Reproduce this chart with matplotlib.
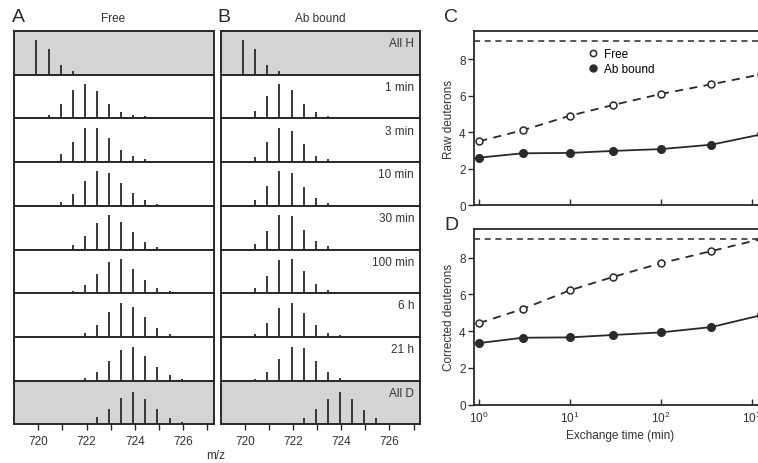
import matplotlib
matplotlib.use('Agg')
from matplotlib import pyplot as plt
from matplotlib.lines import Line2D
import numpy as np

plt.rcParams['font.family'] = ['Liberation Sans', 'DejaVu Sans']
plt.rcParams['mathtext.default'] = 'regular'

# --------------- Daten ---------------
# Isotopenpeaks (2+ Ion): erster Peak und Abstand in m/z
mz_first = 719.93
mz_step = 0.5
row_labels = ['All H', '1 min', '3 min', '10 min', '30 min', '100 min', '6 h', '21 h', 'All D']

# relative Peakhoehe (in % der Zeilenhoehe), Peak 0..12
free_peaks = [
    [79, 59, 22, 8, 2, 0, 0, 0, 0, 0, 0, 0, 0],
    [1, 8, 32, 64, 79, 62, 34, 15, 8, 5, 1, 0, 0],
    [0, 2, 18, 47, 79, 78, 55, 27, 14, 6, 2, 0, 0],
    [0, 0, 8, 26, 56, 79, 76, 53, 30, 14, 5, 0, 0],
    [0, 0, 1, 10, 32, 61, 78, 63, 40, 18, 6, 1, 0],
    [0, 0, 0, 5, 18, 44, 72, 78, 56, 31, 13, 5, 0],
    [0, 0, 0, 1, 9, 27, 56, 77, 69, 45, 21, 7, 1],
    [0, 0, 0, 0, 5, 19, 44, 69, 77, 57, 31, 13, 4],
    [0, 0, 0, 0, 3, 16, 36, 60, 75, 59, 34, 15, 5],
]
bound_peaks = [
    [79, 59, 22, 8, 2, 0, 0, 0, 0, 0, 0, 0, 0],
    [2, 16, 52, 79, 66, 34, 14, 5, 1, 0, 0, 0, 0],
    [1, 12, 45, 79, 71, 42, 15, 6, 1, 1, 0, 0, 0],
    [0, 13, 46, 79, 74, 43, 18, 6, 1, 0, 0, 0, 0],
    [1, 13, 43, 78, 77, 45, 20, 8, 2, 0, 0, 0, 0],
    [0, 11, 40, 76, 78, 50, 22, 8, 2, 1, 0, 0, 0],
    [0, 6, 31, 66, 77, 55, 27, 10, 4, 1, 0, 0, 0],
    [1, 3, 19, 50, 78, 75, 44, 20, 7, 2, 0, 0, 0],
    [0, 0, 0, 0, 3, 15, 35, 59, 75, 58, 33, 14, 4],
]

# Austauschkinetik
exch_time = [1, 3, 10, 30, 100, 360, 1260]
raw_free = [3.51, 4.11, 4.91, 5.50, 6.10, 6.63, 7.17]
raw_bound = [2.61, 2.85, 2.87, 2.98, 3.08, 3.32, 3.88]
corr_free = [4.44, 5.20, 6.22, 6.95, 7.69, 8.35, 9.0]
corr_bound = [3.35, 3.64, 3.66, 3.79, 3.93, 4.22, 4.86]
max_deut = 9

# --------------- Layout ---------------
W, H = 758, 464
fig = plt.figure(figsize=(W / 100, H / 100), dpi=100)
ink = '#2a2a2a'


def add_ax(l, t, r, b):
    return fig.add_axes([l / W, 1 - b / H, (r - l) / W, (b - t) / H])


row_top = 32
row_h = 43.7
gray_rows = [0, 8]


def spektren(x0, x1, peaks, show_labels):
    for i, inten in enumerate(peaks):
        ax = add_ax(x0, row_top + i * row_h, x1, row_top + (i + 1) * row_h)
        mz = mz_first + mz_step * np.arange(len(inten))
        h = np.array(inten, dtype=float)
        ok = h > 0
        ax.vlines(mz[ok], 0, h[ok], color=ink, lw=1.3, capstyle='butt')
        ax.set_xlim(719, 727.27)
        ax.set_ylim(0, 100)
        if i in gray_rows:
            ax.set_facecolor('#d4d4d6')
        for s in ax.spines.values():
            s.set_linewidth(1.4)
            s.set_color(ink)
        ax.set_yticks([])
        if i == len(peaks) - 1:
            ax.set_xticks([720, 722, 724, 726])
            ax.set_xticks([721, 723, 725, 727], minor=True)
            ax.tick_params(axis='x', which='both', direction='out', length=4,
                           width=1, color=ink, labelsize=8.5, labelcolor='#333333')
        else:
            ax.set_xticks([])
        if show_labels:
            ax.text(0.97, 0.72, row_labels[i], transform=ax.transAxes,
                    ha='right', va='center', fontsize=8.5, color='#333333')


spektren(14, 214, free_peaks, False)
spektren(221, 420, bound_peaks, True)

fig.text(18 / W, 1 - 18 / H, 'A', fontsize=14, ha='center', va='center', color=ink)
fig.text(113 / W, 1 - 19 / H, 'Free', fontsize=8.5, ha='center', va='center', color='#333333')
fig.text(224 / W, 1 - 18 / H, 'B', fontsize=14, ha='center', va='center', color=ink)
fig.text(320 / W, 1 - 19 / H, 'Ab bound', fontsize=8.5, ha='center', va='center', color='#333333')
fig.text(216 / W, 1 - 456 / H, 'm/z', fontsize=8.5, ha='center', va='center', color='#333333')


# --------------- Kinetik C / D ---------------
def kinetik(top, bottom, y_free, y_bound, ylabel, letter, letter_y, show_x):
    ax = add_ax(474, top, 779, bottom)
    ax.axhline(max_deut, ls=(0, (4, 3)), lw=1.1, color=ink)
    ax.plot(exch_time, y_free, ls=(0, (4.5, 3.5)), lw=1.3, color=ink,
            marker='o', ms=5, mfc='white', mec=ink, mew=1.1)
    ax.plot(exch_time, y_bound, ls='-', lw=1.3, color=ink,
            marker='o', ms=5.5, mfc=ink, mec=ink)
    ax.set_xscale('log')
    ax.set_xlim(0.875, 2000)
    ax.set_ylim(0, 9.55)
    ax.set_xticks([1, 10, 100, 1000])
    ax.minorticks_off()
    ax.set_yticks([0, 2, 4, 6, 8])
    ax.tick_params(axis='x', direction='in', length=4, width=1, color=ink,
                   labelsize=8.5, labelcolor='#333333', labelbottom=show_x)
    ax.tick_params(axis='y', direction='out', length=4, width=1, color=ink,
                   labelsize=8.5, labelcolor='#333333', pad=2)
    for s in ax.spines.values():
        s.set_linewidth(1.3)
        s.set_color(ink)
    ax.set_ylabel(ylabel, fontsize=8.5, color='#333333', labelpad=3)
    fig.text(451 / W, 1 - letter_y / H, letter, fontsize=14, ha='center', va='center', color=ink)
    return ax


axC = kinetik(32, 206.3, raw_free, raw_bound, 'Raw deuterons', 'C', 17.5, False)
axD = kinetik(230, 405.7, corr_free, corr_bound, 'Corrected deuterons', 'D', 226, True)
fig.text(620 / W, 1 - 436 / H, 'Exchange time (min)', fontsize=8.5, ha='center',
         va='center', color='#333333')

handles = [Line2D([], [], ls='none', marker='o', ms=4.5, mfc='white', mec=ink, mew=1.1),
           Line2D([], [], ls='none', marker='o', ms=5, mfc=ink, mec=ink)]
axC.legend(handles, ['Free', 'Ab bound'], loc='upper left', bbox_to_anchor=(0.36, 0.93),
           frameon=False, handlelength=0.8, handletextpad=0.5, labelspacing=0.25,
           fontsize=8.5, borderaxespad=0)

plt.savefig('out.png', dpi=100)
